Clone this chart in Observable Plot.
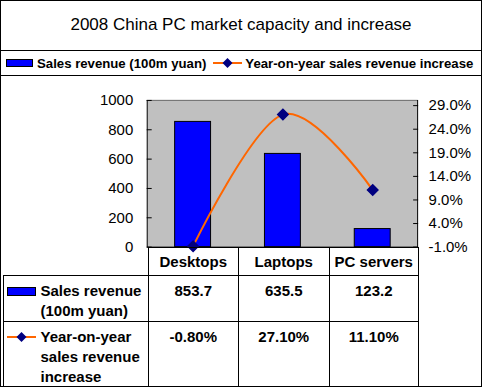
<!DOCTYPE html>
<html>
<head>
<meta charset="utf-8">
<script src="https://cdn.jsdelivr.net/npm/d3@7"></script>
<script src="https://cdn.jsdelivr.net/npm/@observablehq/plot@0.6"></script>
<style>
  html, body { margin: 0; padding: 0; background: #fff; }
  body { font-family: "Liberation Sans", Arial, sans-serif; color: #000; }
  #wrap { position: relative; width: 482px; height: 387px; border: 1px solid #000; box-sizing: border-box; overflow: hidden; background: #fff; }
  #title { position: absolute; left: 0; top: 14px; width: 480px; text-align: center; font-size: 17px; line-height: 20px; }
  #legend { position: absolute; left: -1px; top: 49px; width: 482px; height: 24px; border-top: 1px solid #000; border-bottom: 1px solid #000; display: flex; align-items: center; font-weight: bold; font-size: 13.2px; white-space: nowrap; }
  #legend svg { display: block; }
  #chart { position: absolute; left: -1px; top: 73px; }
  #tbl { position: absolute; left: 1.5px; top: 246px; border-collapse: collapse; table-layout: fixed; font-weight: bold; font-size: 15px; }
  #tbl td { border: 1px solid #000; padding: 0; vertical-align: top; text-align: center; line-height: 20px; box-sizing: border-box; }
  #tbl tr.head td { height: 28px; vertical-align: middle; }
  #tbl tr.head td.blank { border-top: none; border-left: none; }
  #tbl tr.r1 td { height: 45px; }
  #tbl tr.r2 td { height: 64px; }
  #tbl td.val { padding-top: 5px; }
  #tbl td.lab { text-align: left; padding-top: 5px; }
  .labwrap { display: flex; align-items: flex-start; }
  .labwrap svg { flex: none; margin: 6px 5px 0 3px; }
</style>
</head>
<body>
<div id="wrap">
  <div id="title">2008 China PC market capacity and increase</div>
  <div id="legend"></div>
  <div id="chart"></div>
  <table id="tbl"></table>
</div>
<script>
// ---- data ----
const categories = ["Desktops", "Laptops", "PC servers"];
const revenue = [853.7, 635.5, 123.2];          // Sales revenue (100m yuan)
const growth = [-0.8, 27.1, 11.1];              // Year-on-year increase, %
const revenueTicks = [0, 200, 400, 600, 800, 1000];
const growthTicks = [-1, 4, 9, 14, 19, 24, 29];
const seriesNames = ["Sales revenue (100m yuan)", "Year-on-year sales revenue increase"];
const tableRowLabels = [["Sales revenue", "(100m yuan)"], ["Year-on-year", "sales revenue", "increase"]];

const rows = categories.map((c, i) => ({cat: c, rev: revenue[i], pct: growth[i]}));

// secondary (percent) axis mapped onto the primary scale domain
const pct2y = d3.scaleLinear().domain([-1, 30.1]).range([0, 1000]);

const barFill = "#0000ff", lineColor = "#ff6600", dotColor = "#000080";

const chart = Plot.plot({
  width: 482,
  height: 190,
  marginTop: 26,
  marginBottom: 17,
  marginLeft: 147,
  marginRight: 64,
  style: {fontFamily: '"Liberation Sans", Arial, sans-serif', fontSize: "15px", color: "#000", background: "transparent"},
  x: {type: "band", domain: categories, paddingInner: 0.6, paddingOuter: 0.3, axis: null},
  y: {domain: [0, 1000], axis: null},
  marks: [
    Plot.frame({fill: "#c0c0c0", stroke: "#000"}),
    Plot.ruleY([1000], {stroke: "#808080"}),
    Plot.barY(rows, {x: "cat", y: "rev", fill: barFill, stroke: "#000", strokeWidth: 1}),
    Plot.line(rows, {x: "cat", y: d => pct2y(d.pct), stroke: lineColor, strokeWidth: 2, curve: "cardinal"}),
    Plot.dot(rows, {x: "cat", y: d => pct2y(d.pct), symbol: "diamond2", r: 4.7, fill: dotColor, stroke: dotColor}),
    // left axis: labels and inward ticks
    Plot.axisY(revenueTicks, {anchor: "left", tickSize: 0, tickPadding: 14, label: null, fontSize: 15, tickFormat: d => String(d)}),
    Plot.axisY(revenueTicks, {anchor: "left", tickSize: 5, dx: 5, tickFormat: () => "", label: null}),
    // right axis
    Plot.axisY(growthTicks.map(p => pct2y(p)), {anchor: "right", tickSize: 0, tickPadding: 11, label: null, fontSize: 15,
      tickFormat: d => pct2y.invert(d).toFixed(1) + "%"}),
    Plot.axisY(growthTicks.map(p => pct2y(p)), {anchor: "right", tickSize: 5, dx: -5, tickFormat: () => "", label: null})
  ]
});
document.getElementById("chart").appendChild(chart);

// ---- legend swatches ----
function barKey(w, h) {
  return `<svg width="${w}" height="${h}"><rect x="0.5" y="0.5" width="${w - 1}" height="${h - 1}" fill="${barFill}" stroke="#000"/></svg>`;
}
function lineKey(w, h) {
  const c = h / 2, m = w / 2;
  return `<svg width="${w}" height="${h}"><line x1="0" x2="${w}" y1="${c}" y2="${c}" stroke="${lineColor}" stroke-width="2"/>` +
    `<path d="M${m},${c - 5}L${m + 5},${c}L${m},${c + 5}L${m - 5},${c}Z" fill="${dotColor}"/></svg>`;
}
const legend = document.getElementById("legend");
legend.innerHTML =
  `<span style="margin-left:6px;margin-right:4px">${barKey(27, 8)}</span>` +
  `<span>${seriesNames[0]}</span>` +
  `<span style="margin-left:7px;margin-right:3px">${lineKey(29, 12)}</span>` +
  `<span>${seriesNames[1]}</span>`;

// ---- data table ----
const tbl = document.getElementById("tbl");
const colW = [145, 90.5, 90.5, 89.5];
let html = "<colgroup>" + colW.map(w => `<col style="width:${w}px">`).join("") + "</colgroup>";
html += `<tr class="head"><td class="blank"></td>` + categories.map(c => `<td>${c}</td>`).join("") + "</tr>";
html += `<tr class="r1"><td class="lab"><div class="labwrap">${barKey(29, 9)}<div>${tableRowLabels[0].join("<br>")}</div></div></td>` +
  revenue.map(v => `<td class="val">${v.toFixed(1)}</td>`).join("") + "</tr>";
html += `<tr class="r2"><td class="lab"><div class="labwrap">${lineKey(29, 12).replace('<svg', '<svg style="margin-top:4px"')}<div>${tableRowLabels[1].join("<br>")}</div></div></td>` +
  growth.map(v => `<td class="val">${v.toFixed(2)}%</td>`).join("") + "</tr>";
tbl.innerHTML = html;
</script>
</body>
</html>
